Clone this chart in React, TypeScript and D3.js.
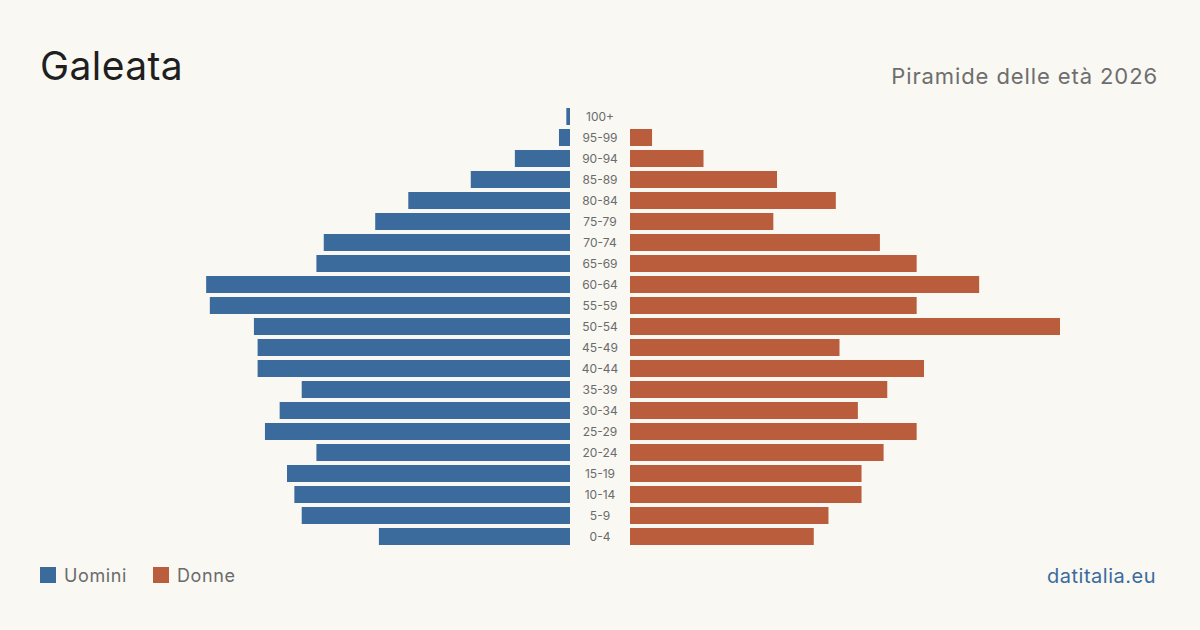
import * as d3 from "d3";
import { useEffect, useRef } from "react";

const ageGroups = [
  "100+", "95-99", "90-94", "85-89", "80-84", "75-79", "70-74",
  "65-69", "60-64", "55-59", "50-54", "45-49", "40-44", "35-39",
  "30-34", "25-29", "20-24", "15-19", "10-14", "5-9", "0-4",
];
const men = [1, 3, 15, 27, 44, 53, 67, 69, 99, 98, 86, 85, 85, 73, 79, 83, 69, 77, 75, 73, 52];
const women = [0, 6, 20, 40, 56, 39, 68, 78, 95, 78, 117, 57, 80, 70, 62, 78, 69, 63, 63, 54, 50];

const W = 1200;
const H = 630;
const BLUE = "#3b6b9c";
const ORANGE = "#b95d3c";
const FONT = "Inter, 'Noto Sans', sans-serif";

export default function App() {
  const ref = useRef<SVGSVGElement>(null);

  useEffect(() => {
    const svg = d3.select(ref.current);
    svg.selectAll("*").remove();

    svg.append("rect").attr("width", W).attr("height", H).attr("fill", "#f9f8f3");

    const center = 600;
    const gap = 30;
    const maxVal = d3.max([...men, ...women]) as number;

    const y = d3.scaleBand<string>()
      .domain(ageGroups)
      .range([106, 547])
      .paddingInner(0.19)
      .paddingOuter(0.095);

    const x = d3.scaleLinear().domain([0, maxVal]).range([0, 430]);

    const rows = ageGroups.map((age, i) => ({ age, m: men[i], f: women[i] }));

    svg.append("g")
      .selectAll("rect")
      .data(rows)
      .join("rect")
      .attr("x", (d) => center - gap - x(d.m))
      .attr("y", (d) => y(d.age)!)
      .attr("width", (d) => x(d.m))
      .attr("height", y.bandwidth())
      .attr("fill", BLUE);

    svg.append("g")
      .selectAll("rect")
      .data(rows.filter((d) => d.f > 0))
      .join("rect")
      .attr("x", center + gap)
      .attr("y", (d) => y(d.age)!)
      .attr("width", (d) => x(d.f))
      .attr("height", y.bandwidth())
      .attr("fill", ORANGE);

    svg.append("g")
      .selectAll("text")
      .data(ageGroups)
      .join("text")
      .attr("x", center)
      .attr("y", (d) => y(d)! + y.bandwidth() / 2)
      .attr("dy", "0.35em")
      .attr("text-anchor", "middle")
      .style("font-family", FONT)
      .style("font-size", "12px")
      .style("fill", "#6b6b6b")
      .text((d) => d);

    // header
    svg.append("text")
      .attr("x", 40)
      .attr("y", 80)
      .style("font-family", FONT)
      .style("font-size", "39px")
      .style("letter-spacing", "0.4px")
      .style("fill", "#1f1f1f")
      .text("Galeata");

    svg.append("text")
      .attr("x", 1158)
      .attr("y", 84)
      .attr("text-anchor", "end")
      .style("font-family", FONT)
      .style("font-size", "22px")
      .style("letter-spacing", "0.9px")
      .style("fill", "#6e6e6e")
      .text("Piramide delle età 2026");

    // legend
    const legend = [
      { label: "Uomini", color: BLUE, x: 40 },
      { label: "Donne", color: ORANGE, x: 153 },
    ];
    const lg = svg.append("g").selectAll("g").data(legend).join("g")
      .attr("transform", (d) => `translate(${d.x},567)`);
    lg.append("rect").attr("width", 16).attr("height", 16).attr("fill", (d) => d.color);
    lg.append("text")
      .attr("x", 24)
      .attr("y", 15)
      .style("font-family", FONT)
      .style("font-size", "18px")
      .style("letter-spacing", "0.6px")
      .style("fill", "#6b6b6b")
      .text((d) => d.label);

    svg.append("text")
      .attr("x", 1156)
      .attr("y", 583)
      .attr("text-anchor", "end")
      .style("font-family", FONT)
      .style("font-size", "20px")
      .style("letter-spacing", "0.5px")
      .style("fill", "#3b6b9c")
      .text("datitalia.eu");
  }, []);

  return (
    <svg
      ref={ref}
      width={W}
      height={H}
      style={{ position: "absolute", left: 0, top: 0, display: "block" }}
    />
  );
}
